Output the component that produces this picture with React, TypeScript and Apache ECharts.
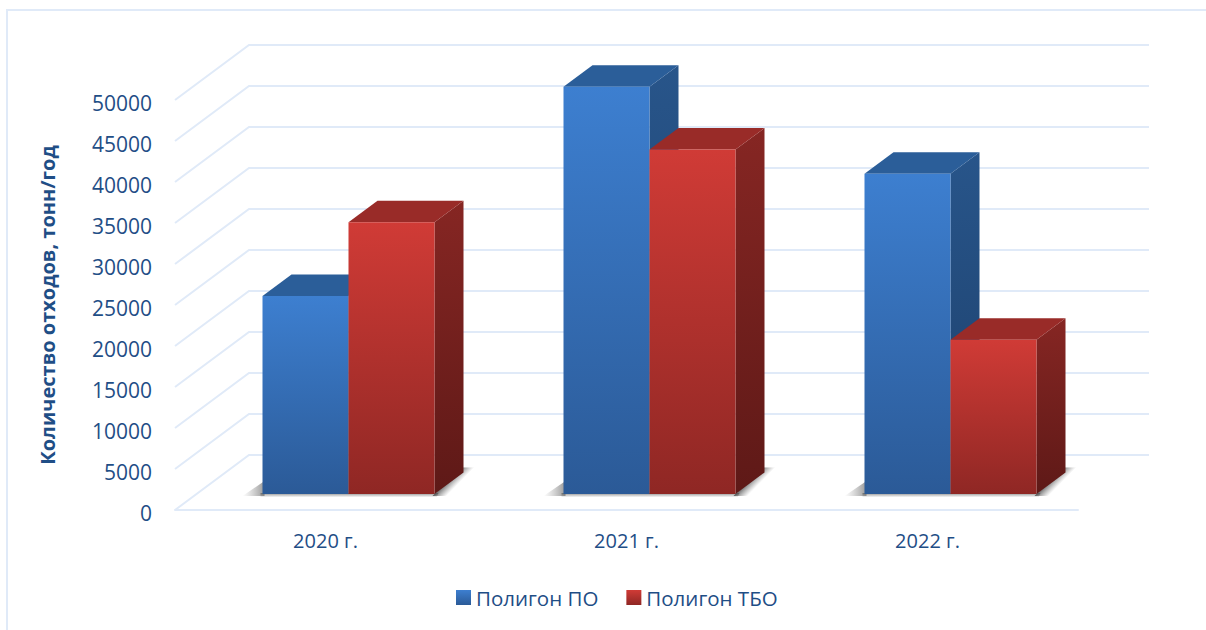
import React, { useEffect, useRef } from "react";
import * as echarts from "echarts";

const categories = ["2020 г.", "2021 г.", "2022 г."];
const seriesPO = [24150, 49650, 39050];
const seriesTBO = [33150, 42000, 18800];
const yTicks = [0, 5000, 10000, 15000, 20000, 25000, 30000, 35000, 40000, 45000, 50000];
const yTitle = "Количество отходов, тонн/год";
const namePO = "Полигон ПО";
const nameTBO = "Полигон ТБО";

const TEXT = "#1f4e86";
const FONT = "'Open Sans', sans-serif";
const GRID = "#e0eaf8";
const WALL_DX = 74, WALL_DY = 55, WALL_RIGHT = 71;
const BAR_W = 86, DEPTH_X = 29, DEPTH_Y = 21.5;
const FLOOR_DX = 23, FLOOR_DY = 16;

const grad = (a: string, b: string) =>
  new echarts.graphic.LinearGradient(0, 0, 0, 1, [
    { offset: 0, color: a },
    { offset: 1, color: b },
  ]);

const poly = (points: number[][], fill: any) => ({
  type: "polygon",
  shape: { points },
  style: { fill, stroke: "none" },
});

const wallItem = (params: any, api: any) => {
  const v = api.value(1);
  const y = api.coord([0, v])[1];
  const cs = params.coordSys;
  const x0 = cs.x;
  const x1 = cs.x + cs.width + WALL_RIGHT;
  return {
    type: "polyline",
    shape: { points: [[x0, y], [x0 + WALL_DX, y - WALL_DY], [x1, y - WALL_DY]] },
    style: { stroke: GRID, lineWidth: 2, fill: "none" },
    silent: true,
  };
};

const shadowItem = (_: any, api: any) => {
  const [cx, cy] = api.coord([api.value(0), 0]);
  const c = cx + FLOOR_DX;
  const y = cy - FLOOR_DY;
  const l = c - BAR_W;
  const r = c + BAR_W;
  const clear = "rgba(130,130,130,0)";
  return {
    type: "group",
    silent: true,
    children: [
      poly(
        [[l - 20, y + 2], [l + 2, y - 13], [l + 2, y + 2]],
        new echarts.graphic.LinearGradient(1, 0, 0, 0, [
          { offset: 0, color: "rgba(80,80,80,0.6)" },
          { offset: 1, color: clear },
        ])
      ),
      poly(
        [[l - 2, y - 1], [r + 4, y - 1], [r + 2, y + 3.5], [l - 2, y + 3.5]],
        new echarts.graphic.LinearGradient(0, 0, 0, 1, [
          { offset: 0, color: "rgba(80,80,80,0.7)" },
          { offset: 1, color: clear },
        ])
      ),
      poly(
        [
          [r - 2, y + 2],
          [r + DEPTH_X - 2, y - DEPTH_Y - 5],
          [r + DEPTH_X + 20, y - DEPTH_Y - 5],
          [r + 12, y + 2],
        ],
        new echarts.graphic.LinearGradient(0.275, 0.5, 0.485, 0.615, [
          { offset: 0, color: "rgba(60,60,60,0.8)" },
          { offset: 0.5, color: "rgba(110,110,110,0.45)" },
          { offset: 1, color: clear },
        ])
      ),
    ],
  };
};

const barItem = (dir: number, front: any, top: string, side: any) => (_: any, api: any) => {
  const [cx, y0] = api.coord([api.value(0), 0]);
  const yv = api.coord([api.value(0), api.value(1)])[1];
  const c = cx + FLOOR_DX;
  const xl = dir < 0 ? c - BAR_W : c;
  const xr = xl + BAR_W;
  const b = y0 - FLOOR_DY;
  const t = yv - FLOOR_DY;
  return {
    type: "group",
    children: [
      poly([[xr, t], [xr + DEPTH_X, t - DEPTH_Y], [xr + DEPTH_X, b - DEPTH_Y], [xr, b]], side),
      poly([[xl, t], [xl + DEPTH_X, t - DEPTH_Y], [xr + DEPTH_X, t - DEPTH_Y], [xr, t]], top),
      { type: "rect", shape: { x: xl, y: t, width: BAR_W, height: b - t }, style: { fill: front } },
    ],
  };
};

export default function App() {
  const ref = useRef<HTMLDivElement>(null);
  useEffect(() => {
    const chart = echarts.init(ref.current!, null, { renderer: "svg" });
    const blue = grad("#3d7fd0", "#2b5a97");
    const red = grad("#d03b36", "#8f2724");
    chart.setOption({
      animation: false,
      backgroundColor: "#ffffff",
      grid: { left: 175, top: 100, width: 903, height: 410, containLabel: false },
      legend: {
        data: [namePO, nameTBO],
        left: 451,
        top: 582,
        icon: "rect",
        itemWidth: 15,
        itemHeight: 15,
        itemGap: 28,
        selectedMode: false,
        textStyle: { color: TEXT, fontFamily: FONT, fontSize: 20.5 },
      },
      xAxis: {
        type: "category",
        data: categories,
        axisLine: { show: true, lineStyle: { color: GRID, width: 2 } },
        axisTick: { show: false },
        splitLine: { show: false },
        axisLabel: { color: TEXT, fontFamily: FONT, fontSize: 20, margin: 20 },
      },
      yAxis: {
        type: "value",
        min: 0,
        max: 50000,
        interval: 5000,
        name: yTitle,
        nameLocation: "middle",
        nameGap: 118,
        nameTextStyle: { color: TEXT, fontFamily: FONT, fontSize: 20, fontWeight: "bold" },
        axisLine: { show: false },
        axisTick: { show: false },
        splitLine: { show: false },
        axisLabel: {
          margin: 23,
          formatter: (v: number) => "{v|" + v + "}",
          rich: {
            v: {
              color: TEXT,
              fontFamily: FONT,
              fontSize: 21,
              height: 21,
              lineHeight: 27,
              verticalAlign: "bottom",
            },
          },
        },
      },
      graphic: [
        { type: "line", silent: true, shape: { x1: 7, y1: 10, x2: 1206, y2: 10 }, style: { stroke: GRID, lineWidth: 2 } },
        { type: "line", silent: true, shape: { x1: 7, y1: 9, x2: 7, y2: 630 }, style: { stroke: GRID, lineWidth: 2 } },
      ],
      series: [
        {
          type: "custom",
          name: "wall",
          silent: true,
          clip: false,
          z: 1,
          renderItem: wallItem,
          encode: { x: 0, y: 1 },
          data: yTicks.map((v) => [0, v]),
        },
        {
          type: "custom",
          name: "shadow",
          silent: true,
          clip: false,
          z: 2,
          renderItem: shadowItem,
          encode: { x: 0, y: 1 },
          data: categories.map((_, i) => [i, 0]),
        },
        {
          type: "custom",
          name: namePO,
          clip: false,
          z: 3,
          itemStyle: { color: blue },
          renderItem: barItem(-1, blue, "#2b5e99", grad("#28558a", "#1c3f6b")),
          encode: { x: 0, y: 1 },
          data: seriesPO.map((v, i) => [i, v]),
        },
        {
          type: "custom",
          name: nameTBO,
          clip: false,
          z: 4,
          itemStyle: { color: red },
          renderItem: barItem(1, red, "#992b28", grad("#862623", "#5e1917")),
          encode: { x: 0, y: 1 },
          data: seriesTBO.map((v, i) => [i, v]),
        },
      ],
    });
    return () => chart.dispose();
  }, []);
  return <div ref={ref} style={{ position: "fixed", left: 0, top: 0, width: 1206, height: 630 }} />;
}
